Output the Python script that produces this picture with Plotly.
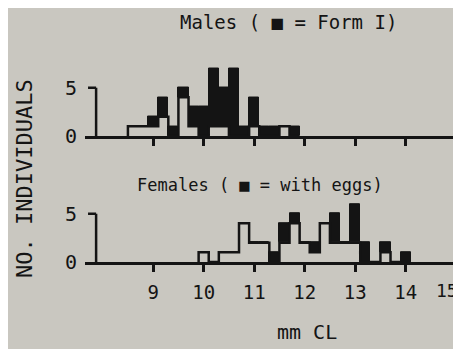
import plotly.graph_objects as go

# ---------------- data ----------------
BIN_WIDTH = 0.2
male_bins = [8.6, 8.8, 9.0, 9.2, 9.4, 9.6, 9.8, 10.0, 10.2, 10.4, 10.6, 10.8,
             11.0, 11.2, 11.4, 11.6, 11.8]
male_other = [1, 1, 1, 2, 0, 4, 1, 0, 1, 1, 0, 0, 1, 0, 0, 1, 0]      # hollow
male_form1 = [0, 0, 1, 2, 1, 1, 2, 3, 6, 4, 7, 1, 3, 1, 1, 0, 1]      # black

female_bins = [10.0, 10.2, 10.4, 10.6, 10.8, 11.0, 11.2, 11.4, 11.6, 11.8, 12.0,
               12.2, 12.4, 12.6, 12.8, 13.0, 13.2, 13.4, 13.6, 13.8, 14.0]
female_other = [1, 0, 1, 1, 4, 2, 2, 0, 2, 4, 2, 1, 4, 2, 2, 2, 0, 0, 1, 0, 0]
female_eggs = [0, 0, 0, 0, 0, 0, 0, 1, 2, 1, 0, 1, 0, 3, 0, 4, 2, 0, 1, 0, 1]

x_ticks = [9, 10, 11, 12, 13, 14, 15]
x_tick_labels = ["9", "10", "11", "12", "13", "14", "15"]
y_ticks = [0, 5]

# ---------------- style ----------------
W, H = 461, 349
BG = "#c9c7c0"
INK = "#141414"
FONT = "DejaVu Sans Mono"
X_RANGE = [7.65, 15.02]
PX_PER_MM = 50.5
Y_AXIS_X = 7.87          # x position (mm) of the short y-axis bracket
Y_TICK_LEFT = 7.71


def px(x):
    return x / W


def py(y):
    return 1 - y / H


fig = go.Figure()


def add_panel(bins, hollow, black, xa, ya):
    left = [c - BIN_WIDTH / 2 for c in bins]
    right_end = bins[-1] + BIN_WIDTH / 2
    xs = [left[0]] + left + [right_end, right_end]
    ys = [0] + list(hollow) + [hollow[-1], 0]
    fig.add_trace(go.Bar(x=bins, y=black, base=hollow, width=BIN_WIDTH,
                         marker=dict(color=INK, line=dict(color=INK, width=1)),
                         xaxis=xa, yaxis=ya, showlegend=False, hoverinfo="skip"))
    fig.add_trace(go.Scatter(x=xs, y=ys, mode="lines", line_shape="hv",
                             line=dict(color=INK, width=2.5),
                             xaxis=xa, yaxis=ya, showlegend=False,
                             hoverinfo="skip", cliponaxis=False))


add_panel(male_bins, male_other, male_form1, "x", "y")
add_panel(female_bins, female_other, female_eggs, "x2", "y2")

x_left_px = 77
x_right_px = x_left_px + (X_RANGE[1] - X_RANGE[0]) * PX_PER_MM
xdom = [px(x_left_px), px(x_right_px)]
top_dom = [py(132.5), py(132.5 - 75)]
bot_dom = [py(263), py(263 - 65)]

common_x = dict(range=X_RANGE, showline=True, linecolor=INK, linewidth=2.5,
                ticks="outside", ticklen=7, tickwidth=2.5, tickcolor=INK,
                tickvals=x_ticks, showgrid=False, zeroline=False, fixedrange=True,
                tickfont=dict(family=FONT, size=19, color=INK))
common_y = dict(showline=False, ticks="", tickvals=y_ticks, showgrid=False,
                zeroline=False, tickfont=dict(family=FONT, size=20, color=INK),
                ticklabelstandoff=7)

# the last tick label sits at the page edge; it is written as an annotation
axis_labels = x_tick_labels[:-1] + [""]

fig.update_layout(
    width=W, height=H, margin=dict(l=0, r=0, t=0, b=0),
    paper_bgcolor=BG, plot_bgcolor=BG, bargap=0, barmode="overlay",
    xaxis=dict(domain=xdom, anchor="y", showticklabels=False, **common_x),
    yaxis=dict(domain=top_dom, anchor="x", range=[0, 7.5], **common_y),
    xaxis2=dict(domain=xdom, anchor="y2", showticklabels=True,
                ticktext=axis_labels, ticklabelstandoff=4, **common_x),
    yaxis2=dict(domain=bot_dom, anchor="x2", range=[0, 6.5], **common_y),
)
fig.add_annotation(text=x_tick_labels[-1], x=px(451), xref="paper",
                   y=py(293), yref="paper", showarrow=False,
                   font=dict(family=FONT, size=18, color=INK),
                   xanchor="right", yanchor="middle", borderpad=0)

# short y-axis brackets (0 to 5 with a left tick at 5)
for xr, yr in (("x", "y"), ("x2", "y2")):
    fig.add_shape(type="line", xref=xr, yref=yr, x0=Y_AXIS_X, x1=Y_AXIS_X,
                  y0=0, y1=5, line=dict(color=INK, width=2.5))
    fig.add_shape(type="line", xref=xr, yref=yr, x0=Y_TICK_LEFT, x1=Y_AXIS_X,
                  y0=5, y1=5, line=dict(color=INK, width=2.5))

fig.add_annotation(text="Males ( \u25a0 = Form I)", x=px(280), y=py(15),
                   xref="paper", yref="paper", showarrow=False,
                   font=dict(family=FONT, size=19, color=INK),
                   xanchor="center", yanchor="middle")
fig.add_annotation(text="Females ( \u25a0 = with eggs)", x=px(252), y=py(183),
                   xref="paper", yref="paper", showarrow=False,
                   font=dict(family=FONT, size=17, color=INK),
                   xanchor="center", yanchor="middle")
fig.add_annotation(text="NO. INDIVIDUALS", x=px(17), y=py(177), textangle=-90,
                   xref="paper", yref="paper", showarrow=False,
                   font=dict(family=FONT, size=22, color=INK),
                   xanchor="center", yanchor="middle")
fig.add_annotation(text="mm CL", x=px(299), y=py(336),
                   xref="paper", yref="paper", showarrow=False,
                   font=dict(family=FONT, size=20, color=INK),
                   xanchor="center", yanchor="middle")

fig.write_html("out.html")
